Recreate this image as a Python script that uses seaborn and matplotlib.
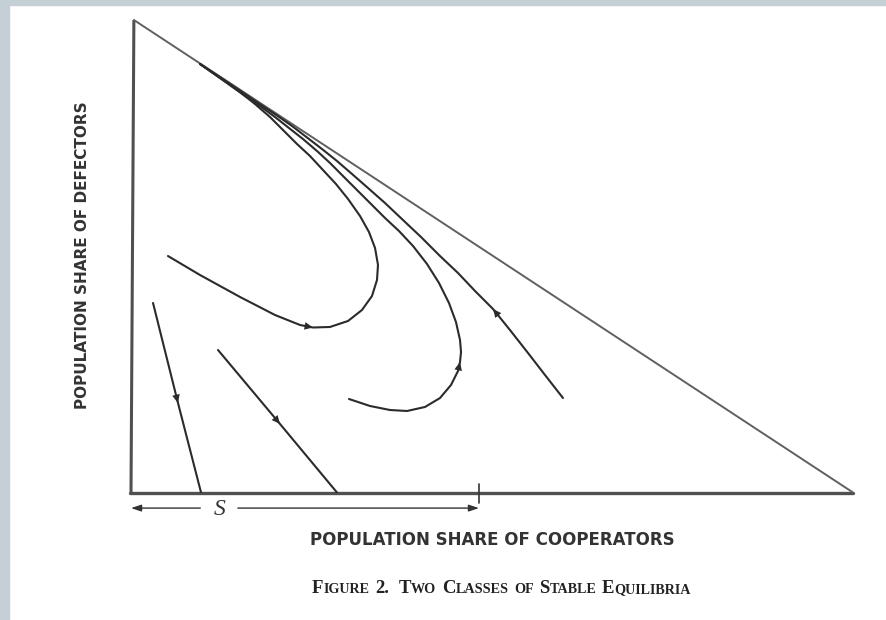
import matplotlib
matplotlib.use("Agg")
import matplotlib.pyplot as plt
import seaborn as sns
from matplotlib.patches import Rectangle

# Simplex corners (share of cooperators, share of defectors)
tri_x = [0.004, 0.0, 1.0]
tri_y = [1.0, 0.0, 0.0]

# Trajectories (x = cooperators, y = defectors)
curve_a_x = [0.0512, 0.0956, 0.1510, 0.1994, 0.2341, 0.2521, 0.2756, 0.3006, 0.3199,
             0.3338, 0.3407, 0.3421, 0.3380, 0.3296, 0.3172, 0.3006, 0.2839, 0.2659,
             0.2479, 0.2299, 0.2119, 0.1925, 0.1717, 0.1510, 0.1233, 0.0956]
curve_a_y = [0.5005, 0.4603, 0.4138, 0.3757, 0.3545, 0.3492, 0.3503, 0.3630, 0.3862,
             0.4159, 0.4497, 0.4815, 0.5175, 0.5513, 0.5852, 0.6212, 0.6529, 0.6825,
             0.7122, 0.7376, 0.7651, 0.7947, 0.8222, 0.8476, 0.8772, 0.9069]

curve_b_x = [0.3019, 0.3310, 0.3587, 0.3823, 0.4072, 0.4280, 0.4432, 0.4529, 0.4557,
             0.4571, 0.4557, 0.4501, 0.4404, 0.4266, 0.4100, 0.3906, 0.3712, 0.3518,
             0.3324, 0.3130, 0.2936, 0.2756, 0.2576, 0.2382, 0.2188, 0.1994, 0.1787,
             0.1579, 0.1302, 0.0956]
curve_b_y = [0.1979, 0.1831, 0.1746, 0.1725, 0.1810, 0.2000, 0.2275, 0.2571, 0.2762,
             0.2974, 0.3228, 0.3608, 0.4011, 0.4434, 0.4836, 0.5217, 0.5534, 0.5810,
             0.6106, 0.6402, 0.6698, 0.6974, 0.7228, 0.7481, 0.7714, 0.7947, 0.8180,
             0.8392, 0.8698, 0.9069]

curve_c_x = [0.5983, 0.5734, 0.5499, 0.5249, 0.5014, 0.4765, 0.4529, 0.4280, 0.4017,
             0.3767, 0.3518, 0.3283, 0.3061, 0.2853, 0.2645, 0.2438, 0.2230, 0.2022,
             0.1814, 0.1579, 0.1302, 0.0956]
curve_c_y = [0.2000, 0.2487, 0.2952, 0.3439, 0.3884, 0.4265, 0.4646, 0.5005, 0.5407,
             0.5767, 0.6127, 0.6444, 0.6741, 0.7016, 0.7270, 0.7513, 0.7757, 0.7979,
             0.8190, 0.8434, 0.8720, 0.9069]

line_d_x = [0.0305, 0.0651, 0.0970]
line_d_y = [0.4011, 0.1894, 0.0]
line_e_x = [0.1205, 0.2064, 0.2853]
line_e_y = [0.3016, 0.1450, 0.0]

# index of the point where each arrowhead sits
arrow_at = {"a": 5, "b": 8, "c": 4, "d": 1, "e": 1}

s_threshold = 0.482
s_label = "S"

x_label = "POPULATION SHARE OF COOPERATORS"
y_label = "POPULATION SHARE OF DEFECTORS"
caption_words = [("F", "IGURE"), ("2.", ""), ("T", "WO"), ("C", "LASSES"),
                 ("", "OF"), ("S", "TABLE"), ("E", "QUILIBRIA")]

ink = "#2b2b2b"

sns.set_style("white")
fig = plt.figure(figsize=(8.86, 6.2), dpi=100)
fig.patches.append(Rectangle((0, 0), 9 / 886, 1, transform=fig.transFigure,
                             color="#c5d0d6", zorder=0))
fig.patches.append(Rectangle((0, 1 - 5 / 620), 1, 5 / 620, transform=fig.transFigure,
                             color="#c5d0d6", zorder=0))

ax = fig.add_axes([131 / 886, 127.5 / 620, 722 / 886, 472.5 / 620])
ax.set_xlim(0, 1)
ax.set_ylim(0, 1)
ax.axis("off")

# triangle: two axes heavy, hypotenuse lighter
ax.plot(tri_x[:2], tri_y[:2], color="#505050", lw=2.2, clip_on=False, solid_capstyle="butt")
ax.plot([tri_x[1] - 0.002, tri_x[2]], tri_y[1:], color="#505050", lw=2.4, clip_on=False)
ax.plot([tri_x[0], tri_x[2]], [tri_y[0], tri_y[2]], color="#606060", lw=1.4, clip_on=False)

curves = {
    "a": (curve_a_x, curve_a_y),
    "b": (curve_b_x, curve_b_y),
    "c": (curve_c_x, curve_c_y),
    "d": (line_d_x, line_d_y),
    "e": (line_e_x, line_e_y),
}
for key, (xs, ys) in curves.items():
    sns.lineplot(x=xs, y=ys, sort=False, estimator=None, color=ink, lw=1.5, ax=ax)
    i = arrow_at[key]
    ax.annotate("", xy=(xs[i], ys[i]), xytext=(xs[i - 1], ys[i - 1]),
                arrowprops=dict(arrowstyle="-|>,head_length=0.55,head_width=0.25",
                                mutation_scale=11, color=ink, lw=0.01,
                                shrinkA=0, shrinkB=0))

# S bracket under the base
yb = -0.033
ax.annotate("", xy=(0.0, yb), xytext=(0.096, yb), annotation_clip=False,
            arrowprops=dict(arrowstyle="-|>,head_length=0.6,head_width=0.2",
                            mutation_scale=10, color="#333333", lw=1.0,
                            shrinkA=0, shrinkB=0))
ax.annotate("", xy=(s_threshold, yb), xytext=(0.148, yb), annotation_clip=False,
            arrowprops=dict(arrowstyle="-|>,head_length=0.6,head_width=0.2",
                            mutation_scale=10, color="#333333", lw=1.0,
                            shrinkA=0, shrinkB=0))
ax.plot([s_threshold, s_threshold], [0.018, -0.022], color="#333333", lw=1.2,
        clip_on=False)
ax.text(0.123, yb - 0.004, s_label, ha="center", va="center", fontsize=17,
        family="Liberation Serif", style="italic", color="#333333")

# axis titles
label_font = dict(family="DejaVu Sans", weight="bold", color="#333333")
fig.text(492 / 886, 1 - 540 / 620, x_label, ha="center", va="center",
         fontsize=12, **label_font)
fig.text(83 / 886, 1 - 255 / 620, y_label, ha="center", va="center",
         rotation=90, fontsize=11, **label_font)

# caption in small caps, built piece by piece
cap_y = 1 - 593 / 620
cap_font = dict(family="Liberation Serif", weight="bold", color="#222222")
prev = None
for w, (big, small) in enumerate(caption_words):
    gap = 0 if prev is None else (7 if w == 2 else 4)
    for txt, size in [(big, 13.5), (small, 10.2)]:
        if not txt:
            continue
        if prev is None:
            prev = fig.text(312 / 886, cap_y, txt, ha="left", va="baseline",
                            fontsize=size, **cap_font)
        else:
            prev = ax.annotate(txt, xy=(1, cap_y), xycoords=(prev, "figure fraction"),
                               xytext=(gap, 0), textcoords="offset points",
                               ha="left", va="baseline", fontsize=size,
                               annotation_clip=False, **cap_font)
        gap = 0

fig.savefig("out.png", dpi=100)
